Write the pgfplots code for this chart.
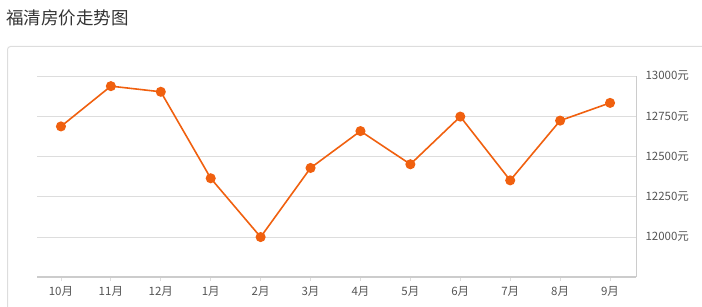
\documentclass[border=0pt]{standalone}
\usepackage{pgfplots}
\pgfplotsset{compat=1.18}
\usepackage{fontspec}
\setmainfont{Noto Sans CJK SC}
\newfontfamily\cjk{Noto Sans CJK SC}
\definecolor{lineor}{HTML}{F0600F}
\definecolor{gridc}{HTML}{DDDDDD}
\definecolor{axc}{HTML}{CCCCCC}
\definecolor{tickc}{HTML}{555555}
\definecolor{titc}{HTML}{333333}
\begin{document}
\begin{tikzpicture}[x=1pt,y=1pt]
\path[use as bounding box] (0,0) rectangle (702,306);
\draw[gridc, line width=1pt, rounded corners=3pt] (7.5,-5) -- (7.5,259.5) -- (710,259.5);
\node[anchor=west, text=titc, font=\fontsize{17.5}{17.5}\selectfont, inner sep=0pt] at (6,288) {福清房价走势图};
\begin{axis}[
  at={(37pt,29pt)}, anchor=south west,
  scale only axis, width=599pt, height=201pt,
  xmin=-0.48, xmax=11.52, ymin=11752, ymax=13000,
  axis x line*=bottom, axis y line*=right,
  xtick={0,...,11},
  xticklabels={10月,11月,12月,1月,2月,3月,4月,5月,6月,7月,8月,9月},
  ytick={12000,12250,12500,12750,13000},
  scaled y ticks=false,
  yticklabel={\pgfmathprintnumber[fixed,precision=0,set thousands separator={}]{\tick}元},
  /pgf/number format/assume math mode=true,
  yticklabel style={anchor=west, xshift=2pt},
  ymajorgrids, grid style={gridc, line width=0.8pt},
  x axis line style={axc, line width=2pt, -},
  y axis line style={axc, line width=0.8pt, -},
  major x tick style={gridc, line width=0.8pt},
  major y tick style={draw=none},
  tick align=outside, major tick length=4pt,
  ticklabel style={text=tickc, font=\fontsize{11.5}{12}\selectfont},
  xticklabel style={yshift=-2pt},
  clip=false,
]
\addplot[lineor, line width=1.6pt, mark=*, mark size=4.2pt, mark options={solid, fill=lineor, draw=none}]
coordinates {(0,12687) (1,12937) (2,12902) (3,12365) (4,12000) (5,12429) (6,12658) (7,12452) (8,12748) (9,12352) (10,12723) (11,12833)};
\end{axis}
\end{tikzpicture}
\end{document}
